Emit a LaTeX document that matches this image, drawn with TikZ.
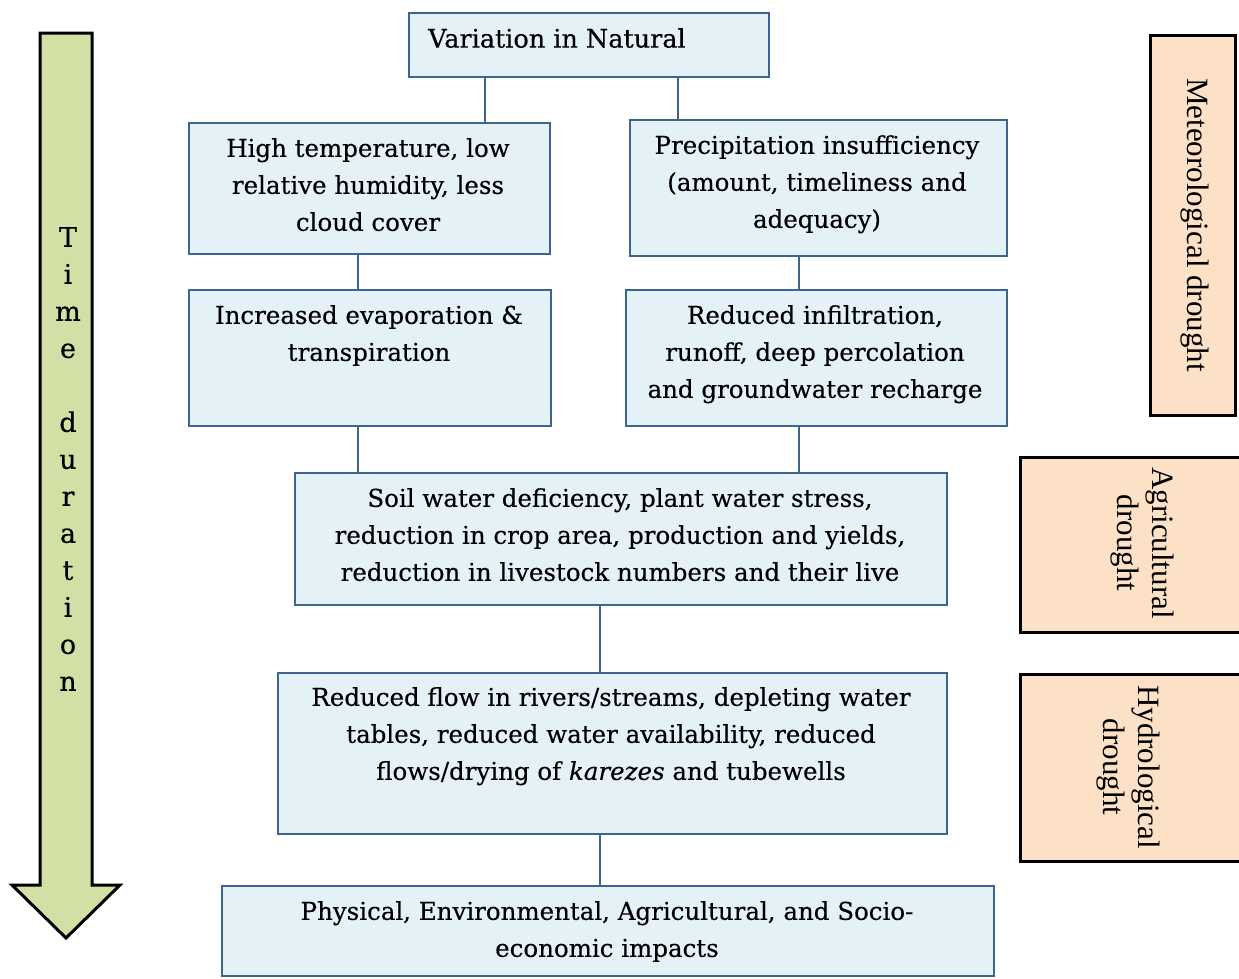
\documentclass[tikz,border=0pt]{standalone}
\usepackage{fontspec}
\setmainfont{DejaVu Serif}[FakeBold=0.35]
\newfontfamily\labfont{Liberation Serif}
\definecolor{boxfill}{HTML}{E4F1F7}
\definecolor{boxline}{HTML}{3E6590}
\definecolor{peach}{HTML}{FCE1C7}
\definecolor{arrgreen}{HTML}{D2E0A6}
\tikzset{
  box/.style={draw=boxline, fill=boxfill, line width=2pt, inner sep=0pt, anchor=north west},
  txt/.style={align=center, inner sep=0pt, anchor=north, font=\fontsize{24.5}{37}\selectfont},
  lab/.style={draw=black, fill=peach, line width=2.5pt, inner sep=0pt, anchor=north west},
  labtxt/.style={align=center, inner sep=0pt, rotate=-90, font=\labfont\fontsize{31}{35}\selectfont},
  conn/.style={draw=boxline, line width=2pt}
}
\begin{document}
\begin{tikzpicture}[x=1pt,y=-1pt]
\clip (0,0) rectangle (1239,978);
\fill[white] (0,0) rectangle (1239,978);

% time arrow
\draw[fill=arrgreen, line width=3pt, line join=miter] (40,33) -- (92,33) -- (92,885) -- (120,885) -- (66,938) -- (12,885) -- (40,885) -- cycle;
\node[align=center, inner sep=0pt, font=\fontsize{27}{37}\selectfont] (time) at (68,459) {T\\i\\m\\e\\[37pt]d\\u\\r\\a\\t\\i\\o\\n};

% boxes
\node[box, minimum width=360pt, minimum height=64pt] (top) at (408,12) {};
\node[txt, anchor=north west, font=\fontsize{25.5}{37}\selectfont] (topT) at (428,28) {Variation in Natural};

\node[box, minimum width=361pt, minimum height=131pt] (A) at (188,122) {};
\node[txt] (AT) at (368,138) {High temperature, low\\relative humidity, less\\cloud cover};

\node[box, minimum width=377pt, minimum height=136pt] (B) at (629,119) {};
\node[txt] (BT) at (817,135) {Precipitation insufficiency\\(amount, timeliness and\\adequacy)};

\node[box, minimum width=362pt, minimum height=136pt] (C) at (188,289) {};
\node[txt] (CT) at (369,305) {Increased evaporation \&\\transpiration};

\node[box, minimum width=381pt, minimum height=136pt] (D) at (625,289) {};
\node[txt] (DT) at (815,305) {Reduced infiltration,\\runoff, deep percolation\\and groundwater recharge};

\node[box, minimum width=652pt, minimum height=132pt] (E) at (294,472) {};
\node[txt] (ET) at (620,488) {Soil water deficiency, plant water stress,\\reduction in crop area, production and yields,\\reduction in livestock numbers and their live};

\node[box, minimum width=669pt, minimum height=161pt] (F) at (277,672) {};
\node[txt] (FT) at (611,687) {Reduced flow in rivers/streams, depleting water\\tables, reduced water availability, reduced\\flows/drying of \textit{karezes} and tubewells};

\node[box, minimum width=772pt, minimum height=90pt] (G) at (221,885) {};
\node[txt] (GT) at (607,901) {Physical, Environmental, Agricultural, and Socio-\\economic impacts};

% connectors
\coordinate (x1) at (485,0);
\coordinate (x2) at (678,0);
\coordinate (x3) at (358,0);
\coordinate (x4) at (799,0);
\coordinate (x5) at (600,0);
\draw[conn] (top.south -| x1) -- (A.north -| x1);
\draw[conn] (top.south -| x2) -- (B.north -| x2);
\draw[conn] (A.south -| x3) -- (C.north -| x3);
\draw[conn] (B.south -| x4) -- (D.north -| x4);
\draw[conn] (C.south -| x3) -- (E.north -| x3);
\draw[conn] (D.south -| x4) -- (E.north -| x4);
\draw[conn] (E.south -| x5) -- (F.north -| x5);
\draw[conn] (F.south -| x5) -- (G.north -| x5);

% drought labels
\node[lab, minimum width=85pt, minimum height=380pt] (met) at (1149,34) {};
\node[labtxt] (metT) at (1195,225) {Meteorological drought};
\node[lab, minimum width=230pt, minimum height=175pt] (agr) at (1019,456) {};
\node[labtxt] (agrT) at (1142,543) {Agricultural\\drought};
\node[lab, minimum width=230pt, minimum height=187pt] (hyd) at (1019,673) {};
\node[labtxt] (hydT) at (1128,767) {Hydrological\\drought};
\end{tikzpicture}
\end{document}
